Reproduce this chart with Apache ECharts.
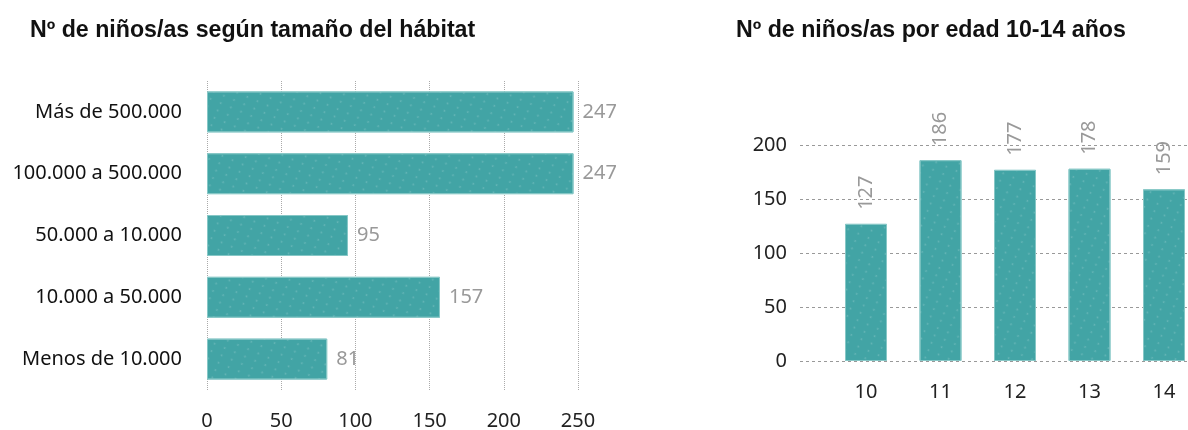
<!DOCTYPE html>
<html>
<head>
<meta charset="utf-8">
<title>Niños/as por hábitat y edad</title>
<script src="https://cdn.jsdelivr.net/npm/echarts@6/dist/echarts.min.js"></script>
<style>
  html, body { margin: 0; padding: 0; background: #fff; }
  #main { width: 1188px; height: 430px; }
</style>
</head>
<body>
<div id="main"></div>
<script>
// datos: tamaño del hábitat
var habitatCats = ['Más de 500.000', '100.000 a 500.000', '50.000 a 10.000', '10.000 a 50.000', 'Menos de 10.000'];
var habitatVals = [247, 247, 95, 157, 81];

// datos: edad 10-14
var ages = [10, 11, 12, 13, 14];
var ageVals = [127, 186, 177, 178, 159];

var chart = echarts.init(document.getElementById('main'), null, { renderer: 'canvas' });

var fam = "'Noto Sans', sans-serif";
var teal = '#42a4a5';

// textura tipo boceto
var decal = {
    symbol: 'rect',
    symbolSize: 0.5,
    color: 'rgba(255,255,255,0.35)',
    dashArrayX: [3, 8],
    dashArrayY: [2, 6],
    rotation: 0.4
};

function txt(size, color) {
    return { fontFamily: fam, fontSize: size, color: color };
}

var titleStyle = { fontFamily: "'Liberation Sans', sans-serif", fontWeight: 'bold', fontSize: 23.2, color: '#111' };

var option = {
    backgroundColor: '#fff',
    title: [{
        text: 'Nº de niños/as según tamaño del hábitat',
        left: 30, top: 19, padding: 0,
        textStyle: titleStyle
    }, {
        text: 'Nº de niños/as por edad 10-14 años',
        left: 736, top: 19, padding: 0,
        textStyle: titleStyle
    }],
    grid: [
        { left: 207, right: 610, top: 81, bottom: 40, outerBoundsMode: 'none' },
        { left: 800, right: 0, top: 145, bottom: 69, outerBoundsMode: 'none' }
    ],
    xAxis: [{
        gridIndex: 0,
        type: 'value',
        min: 0, max: 250, interval: 50,
        axisLine: { show: false },
        axisTick: { show: false },
        axisLabel: Object.assign({ margin: 21 }, txt(20, '#222')),
        splitLine: { show: true, lineStyle: { type: 'dotted', color: '#aaa', width: 1 } }
    }, {
        gridIndex: 1,
        type: 'value',
        min: 9.114, max: 14.322,
        axisLine: { show: false },
        axisTick: { show: false },
        splitLine: { show: false },
        axisLabel: Object.assign({ customValues: ages, margin: 21 }, txt(20, '#222'))
    }],
    yAxis: [{
        gridIndex: 0,
        type: 'category',
        inverse: true,
        data: habitatCats,
        axisLine: { show: false },
        axisTick: { show: false },
        axisLabel: Object.assign({ margin: 25 }, txt(20, '#111'))
    }, {
        gridIndex: 1,
        type: 'value',
        min: 0, max: 200, interval: 50,
        axisLine: { show: false },
        axisTick: { show: false },
        axisLabel: Object.assign({ margin: 13 }, txt(20, '#222')),
        splitLine: { show: true, lineStyle: { type: [3, 3], color: '#999', width: 1 } }
    }],
    series: [{
        type: 'bar',
        xAxisIndex: 0, yAxisIndex: 0,
        data: habitatVals,
        barWidth: 41,
        itemStyle: { color: teal, borderColor: '#86c7c6', borderWidth: 1, decal: decal },
        label: Object.assign({ show: true, position: 'right', distance: 9 }, txt(20, '#999')),
        silent: true
    }, {
        type: 'bar',
        xAxisIndex: 1, yAxisIndex: 1,
        data: ages.map(function (a, i) { return [a, ageVals[i]]; }),
        barWidth: 42,
        itemStyle: { color: teal, borderColor: '#86c7c6', borderWidth: 1, decal: decal },
        label: Object.assign({
            show: true, position: 'top', distance: 14, rotate: 90,
            align: 'left', verticalAlign: 'middle',
            formatter: function (p) { return p.value[1]; }
        }, txt(20, '#999')),
        silent: true
    }]
};

chart.setOption(option);
</script>
</body>
</html>
